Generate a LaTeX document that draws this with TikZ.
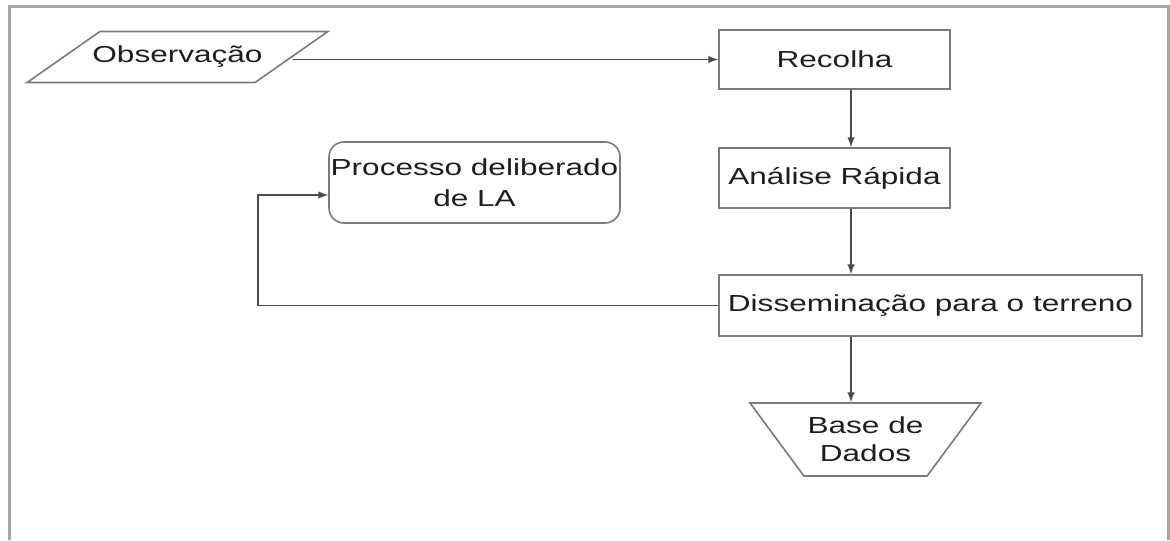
\documentclass[tikz,border=0pt]{standalone}
\usepackage{fontspec}
\setmainfont[FakeStretch=1.36]{Liberation Sans}
\usetikzlibrary{shapes.geometric}
\definecolor{linegray}{HTML}{4A4A4A}
\definecolor{boxgray}{HTML}{7A7A7A}
\definecolor{framegray}{HTML}{A6A6A6}
\definecolor{textgray}{HTML}{1E1E1E}
\tikzstyle{stage}=[rectangle, draw=boxgray, line width=0.8pt, inner sep=0pt, align=center, text=textgray]
\tikzstyle{inout}=[trapezium, trapezium left angle=35, trapezium right angle=145, trapezium stretches body=true, draw=boxgray, line width=0.8pt, inner xsep=-3.75pt, inner ysep=7.25pt, text height=8.5pt, text depth=2.5pt, text=textgray]
\tikzstyle{store}=[trapezium, trapezium left angle=128, trapezium right angle=128, trapezium stretches body=true, draw=boxgray, line width=0.8pt, inner xsep=0pt, inner ysep=6pt, align=center, text=textgray]
\tikzstyle{process}=[rectangle, rounded corners=7.5pt, draw=boxgray, line width=0.8pt, inner sep=0pt, align=center, text=textgray]

\begin{document}
\begin{tikzpicture}[x=0.5pt, y=-0.5pt, >=latex, font=\fontsize{11.6}{14.5}\selectfont]
                    \useasboundingbox (0, 0) rectangle (1170, 540);
                    \draw[framegray, line width=1.5pt] (9, 540)--(9, 7)--(1168, 7)--(1168, 540);
                    \node[inout] (obs) at (177.5, 57) {Observação};
                    \node[stage, minimum width=115.5pt, minimum height=29.5pt] (rec) at (834.5, 59.5) {Recolha};
                    \node[stage, minimum width=115.5pt, minimum height=30pt] (ana) at (834.5, 178) {Análise Rápida};
                    \node[stage, minimum width=211.5pt, minimum height=30.5pt] (dis) at (930.5, 305.5) {Disseminação para o terreno};
                    \node[store, minimum width=115.5pt, minimum height=36.5pt] (bd) at (865.5, 439.5) {Base de\\[-0.5pt]Dados};
                    \node[process, minimum width=145.5pt, minimum height=40.5pt] (proc) at (474.5, 182.5) {Processo deliberado\\[1pt]de LA};
                    \coordinate (col) at (851, 0);
                    \coordinate (fb) at (258, 195);
                    \draw[linegray, line width=0.7pt, ->] (obs.east |- rec.west)--(rec.west);
                    \draw[linegray, line width=0.7pt, ->] (rec.south -| col)--(ana.north -| col);
                    \draw[linegray, line width=0.7pt, ->] (ana.south -| col)--(dis.north -| col);
                    \draw[linegray, line width=0.7pt, ->] (dis.south -| col)--(bd.north -| col);
                    \draw[linegray, line width=0.7pt, ->] (dis.west) -| (fb)--(fb -| proc.west);
                \end{tikzpicture}
\end{document}
